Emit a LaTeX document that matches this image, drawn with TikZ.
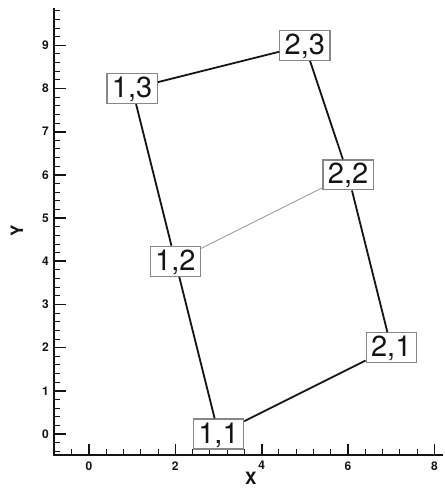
\documentclass[tikz,border=0pt]{standalone}
\usepackage{fontspec}
\setmainfont{TeX Gyre Heros}
\usetikzlibrary{positioning}
\definecolor{ink}{RGB}{20,20,20}
\definecolor{boxgrey}{RGB}{135,135,135}
\definecolor{faint}{RGB}{160,160,160}

\begin{document}
\begin{tikzpicture}[x=43.2pt, y=43.2pt,
    pt/.style={draw=boxgrey, line width=1.2pt, fill=white, text=ink,
               font=\fontsize{29}{29}\selectfont, inner xsep=5pt, inner ysep=3pt,
               text height=21pt, text depth=3pt},
    ed/.style={draw=ink, line width=1.8pt},
    edlight/.style={draw=faint, line width=0.9pt},
    axisline/.style={draw=ink, line width=2.6pt},
    majtick/.style={draw=ink, line width=1.6pt},
    mintick/.style={draw=ink, line width=1pt},
    ticklbl/.style={font=\fontsize{12}{12}\selectfont\bfseries, text=ink, inner sep=0pt},
    axlbl/.style={font=\fontsize{17}{17}\selectfont\bfseries, text=ink, inner sep=0pt}
  ]
  \useasboundingbox (-2.06,-1.25) rectangle (8.24,10.05);
  % ---------------- axes ----------------
  \coordinate (org) at (-0.81,-0.49);
  \coordinate (ytop) at (-0.81,9.86);
  \coordinate (xend) at (8.2,-0.49);
  \foreach \v in {-0.4,0.4,0.8,...,8.0}
    \draw[mintick] (\v,-0.49) -- ++(0,6.5pt);
  \foreach \v in {0,2,4,6,8} {
    \draw[majtick] (\v,-0.49) -- ++(0,11pt);
    \node[ticklbl, anchor=north] (xl\v) at ([yshift=-6pt]\v,-0.49) {\v};
  }
  \foreach \v in {-0.4,-0.2,...,9.81}
    \draw[mintick] (-0.81,\v) -- ++(6.5pt,0);
  \foreach \v in {0,...,9} {
    \draw[majtick] (-0.81,\v) -- ++(12pt,0);
    \node[ticklbl, anchor=east] (yl\v) at ([xshift=-5pt]-0.81,\v) {\v};
  }
  \draw[axisline] (ytop) -- (org) -- (xend);
  \node[axlbl] (xlab) at (3.75,-1.02) {X};
  \node[axlbl, rotate=90] (ylab) at (-1.67,4.7) {Y};

  % ---------------- grid points ----------------
  \node[pt] (p11) at (3,0) {1,1};
  \node[pt] (p12) at (2,4) {1,2};
  \node[pt] (p13) at (1,8) {1,3};
  \node[pt] (p21) at (7,2) {2,1};
  \node[pt] (p22) at (6,6) {2,2};
  \node[pt] (p23) at (5,9) {2,3};
  \draw[ed] (p11) -- (p12); \draw[ed] (p12) -- (p13);
  \draw[ed] (p21) -- (p22); \draw[ed] (p22) -- (p23);
  \draw[ed] (p11) -- (p21); \draw[ed] (p13) -- (p23);
  \draw[edlight] (p12) -- (p22);
\end{tikzpicture}
\end{document}
